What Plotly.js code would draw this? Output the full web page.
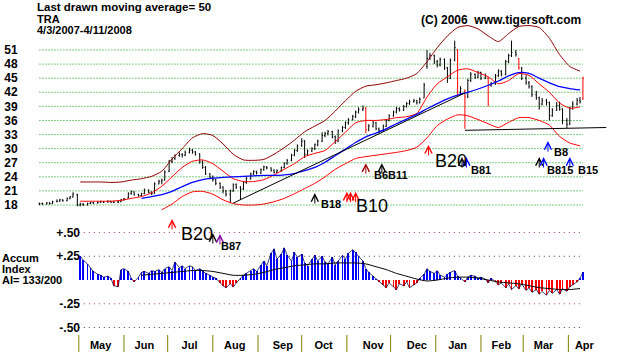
<!DOCTYPE html>
<html><head><meta charset="utf-8">
<script src="https://cdn.plot.ly/plotly-3.0.1.min.js"></script>
<style>html,body{margin:0;padding:0;background:#fff;}#chart{width:618px;height:352px;}</style>
</head><body><div id="chart"></div>
<script>
// ---------------- DATA ----------------
const firstBarDate = '2007-04-04';
const lastBarDate = '2008-04-11';
// bars: Mon / Wed / Fri, one row per week (week 0 has Wed, Fri only)
const opens = [
 18.2,18.3,
 18.2,18.4,18.3, 18.7,18.8,19.1, 18.9,19.4,19.7, 20.2,18.0,18.2, 18.0,18.3,18.5,
 18.4,18.6,18.7, 18.6,18.8,18.6, 18.6,18.7,19.1, 19.5,20.4,20.8, 20.2,20.0,20.4,
 21.2,20.7,20.4, 22.5,23.0,23.3, 25.2,27.3,27.9, 28.5,28.8,28.6, 29.2,29.7,29.3,
 28.9,27.2,26.0, 24.6,23.9,23.4, 22.6,21.8,21.0, 20.3,21.0,22.3, 21.8,21.4,22.8,
 23.6,24.6,25.1, 24.8,25.5,26.1, 25.9,25.4,25.0, 25.3,26.0,26.8, 27.5,28.6,29.6,
 30.6,31.6,28.8, 29.5,30.0,30.8, 31.6,32.8,33.2, 33.6,32.5,31.6, 33.8,34.5,35.5,
 36.2,36.8,37.8, 38.3,38.6,34.0, 34.8,35.5,34.2, 33.8,34.8,36.0, 37.0,37.8,38.5,
 38.2,39.0,39.6, 40.0,40.2,39.8, 40.8,47.5,49.2, 49.8,48.5,47.8, 49.0,47.2,45.0,
 48.8,51.0,42.0, 42.2,41.0,44.5, 45.8,45.2,46.2, 45.0,45.0,43.5, 43.8,45.5,46.5,
 45.8,48.5,49.8, 50.5,49.2,47.2, 45.0,44.0,43.2, 41.5,40.8,39.5, 40.2,39.8,37.0,
 38.2,39.2,38.4, 36.0,35.2,38.6, 39.5,40.3,40.6
];
const highs = [
 18.5,18.5,
 18.6,18.6,18.9, 19.2,19.3,19.2, 19.6,19.9,20.7, 20.4,18.5,18.4, 18.5,18.7,18.6,
 18.8,18.9,18.8, 19.0,18.9,18.9, 18.9,19.3,19.5, 20.7,21.1,20.9, 20.4,20.6,21.5,
 21.3,20.9,22.8, 23.4,23.6,25.4, 27.6,28.2,28.8, 29.2,29.0,29.6, 30.2,29.9,29.5,
 29.0,27.5,26.3, 24.8,24.3,23.6, 22.8,22.0,21.2, 21.3,22.6,22.6, 22.0,23.1,24.0,
 24.9,25.4,25.3, 25.8,26.4,26.3, 26.0,25.6,25.6, 26.2,27.1,27.8, 28.9,29.9,30.9,
 32.2,31.8,29.8, 30.3,31.1,31.9, 33.5,33.6,34.0, 33.8,32.8,34.1, 34.8,35.8,36.5,
 37.2,38.1,38.8, 39.2,38.9,35.2, 35.9,35.7,34.5, 35.1,36.3,37.3, 38.1,38.9,38.8,
 39.3,39.9,40.4, 40.6,40.4,40.9, 44.0,51.0,50.4, 50.0,48.9,49.4, 49.2,47.4,49.2,
 53.0,51.2,43.3, 42.6,44.9,46.3, 46.0,46.6,46.4, 46.0,45.2,44.2, 45.9,46.9,46.7,
 48.9,50.2,53.0, 51.0,49.3,47.4, 45.6,44.4,43.5, 42.3,41.1,40.8, 40.6,40.0,38.6,
 39.9,40.0,38.6, 36.5,38.9,40.1, 40.8,41.0,45.3
];
const lows = [
 18.0,18.0,
 18.1,18.1,18.2, 18.6,18.7,18.7, 18.8,19.2,19.6, 17.7,17.7,17.8, 17.9,18.2,18.2,
 18.3,18.4,18.4, 18.5,18.4,18.4, 18.4,18.6,18.9, 19.4,20.2,20.0, 19.8,19.9,20.3,
 20.5,20.1,20.4, 22.4,22.4,23.2, 25.0,26.9,27.6, 28.3,28.1,28.4, 29.0,28.9,28.5,
 26.8,25.7,24.4, 23.5,23.0,22.2, 21.4,20.5,19.8, 18.5,20.8,21.4, 19.1,21.2,22.5,
 23.4,24.4,24.5, 24.6,25.3,25.6, 25.1,24.7,24.8, 25.1,25.8,26.6, 27.3,28.4,29.3,
 30.4,28.0,28.5, 29.3,29.7,30.5, 31.4,32.4,32.8, 32.2,31.0,31.4, 33.5,34.2,35.1,
 36.0,36.5,37.5, 38.0,33.3,33.7, 34.5,33.9,33.3, 33.6,34.6,35.8, 36.8,37.5,37.9,
 38.0,38.7,39.3, 39.8,39.4,39.6, 40.8,47.0,48.9, 48.0,47.3,47.5, 46.8,44.0,44.8,
 48.6,41.2,41.6, 34.2,40.8,44.2, 44.8,45.0,44.6, 44.8,39.0,43.2, 43.6,45.3,45.4,
 45.6,48.2,49.5, 49.6,46.8,44.6, 43.6,42.8,41.0, 40.4,38.3,39.2, 39.2,36.0,36.8,
 38.0,38.1,35.2, 34.4,35.0,38.3, 39.2,39.6,40.4
];
const closes = [
 18.3,18.2,
 18.4,18.3,18.7, 18.8,19.1,18.9, 19.4,19.7,20.3, 18.0,18.2,18.0, 18.3,18.5,18.4,
 18.6,18.7,18.6, 18.8,18.6,18.6, 18.7,19.1,19.3, 20.4,20.8,20.2, 20.0,20.4,21.2,
 20.7,20.4,22.5, 23.0,23.3,25.0, 27.3,27.9,28.5, 28.8,28.6,29.2, 29.7,29.3,28.9,
 27.2,26.0,24.6, 23.9,23.4,22.6, 21.8,21.0,20.3, 21.0,22.3,21.8, 21.4,22.8,23.6,
 24.6,25.1,24.8, 25.5,26.1,25.9, 25.4,25.0,25.3, 26.0,26.8,27.5, 28.6,29.6,30.6,
 31.6,28.8,29.5, 30.0,30.8,31.6, 32.8,33.2,33.6, 32.5,31.6,33.8, 34.5,35.5,36.2,
 36.8,37.8,38.3, 38.6,34.0,34.8, 35.5,34.2,33.8, 34.8,36.0,37.0, 37.8,38.5,38.2,
 39.0,39.6,40.0, 40.2,39.8,40.5, 43.5,49.2,49.8, 48.5,47.8,49.0, 47.2,45.0,48.8,
 51.5,42.0,42.8, 41.0,44.5,45.8, 45.2,46.2,45.0, 45.5,43.5,43.8, 45.5,46.5,45.8,
 48.5,49.8,50.5, 50.0,47.2,45.0, 44.0,43.2,41.5, 40.8,39.5,40.2, 39.8,37.0,38.2,
 39.2,38.4,36.0, 35.2,38.6,39.5, 40.3,40.0,45.0
];
// bars drawn in red (index into the bar arrays)
const redBarIndex = [96, 123, 125, 132, 141, 160];

// weekly (Wednesday) smoothed lines
const outerBandStartWeek = 4;
const outerBand = [22.9,22.9,22.9,22.8,22.9,23.3,23.6,24.1,25.2,27.8,30.0,32.3,33.2,32.8,31.0,28.8,27.6,27.5,27.7,28.8,
 30.2,31.8,33.6,34.8,36.0,38.0,40.2,42.2,43.3,43.6,44.0,44.5,45.0,46.0,48.5,51.5,54.0,55.8,56.2,55.5,
 54.0,52.8,54.5,56.0,56.2,55.8,53.5,50.0,47.5,46.5];
const upperBandStartWeek = 4;
const upperBand = [18.8,18.8,18.8,18.8,19.0,19.4,19.8,20.6,22.0,24.0,26.0,27.3,27.6,26.8,25.2,23.6,23.0,23.0,23.4,24.4,
 25.6,26.8,28.3,29.0,29.6,31.5,33.5,35.5,36.0,36.0,36.2,36.6,36.8,37.5,41.0,43.8,45.3,46.7,47.0,46.2,
 45.3,43.8,44.5,46.0,45.6,43.8,42.0,39.7,38.6,38.9];
const lowerBandStartWeek = 12;
const lowerBand = [17.0,18.2,19.8,20.8,20.9,20.3,19.1,18.3,18.0,18.0,18.2,18.7,19.4,20.4,21.5,22.6,24.0,25.6,26.8,27.9,
 28.3,28.6,28.9,29.2,29.6,30.3,32.3,34.9,36.3,37.2,37.0,36.2,35.3,34.5,35.6,36.6,36.6,36.0,35.0,32.6,31.2,30.6];
const ma50StartWeek = 10;
const ma50 = [19.4,19.8,20.2,20.9,21.9,22.8,23.4,23.7,23.9,24.0,24.1,24.2,24.3,24.3,24.4,24.7,25.3,26.0,27.1,28.5,
 29.9,31.3,32.5,33.3,34.2,35.3,36.3,37.3,38.5,39.6,40.6,41.4,42.0,42.7,43.5,44.4,45.5,46.2,46.0,45.0,
 44.0,43.2,42.8,42.5];

// trend lines
const uptrendDates = ['2007-08-15', '2008-01-21'];
const uptrendLevels = [18.4, 41.85];
const supportDates = ['2008-01-21', '2008-04-27'];
const supportLevels = [33.9, 34.5];

// Accumulation index, one value per bar
const aiValues = [null,null,null,null,null,null,null,null,null,null,null,null,
 0.25,0.21,0.17,0.13,0.09,0.06,0.05,0.03,0.04,0.02,
 -0.06,-0.07,0.11,0.12,0.09,0.02,-0.02,0.03,0.08,0.09,
 0.07,0.10,0.09,0.11,0.08,0.12,0.14,0.10,0.19,0.13,
 0.15,0.12,0.15,0.14,0.10,0.12,0.09,0.07,0.05,0.03,
 0.02,-0.03,-0.06,-0.08,-0.04,-0.07,-0.03,0.02,0.05,0.07,
 0.10,0.12,0.09,0.16,0.20,0.15,0.28,0.33,0.22,0.27,
 0.34,0.26,0.20,0.29,0.24,0.27,0.18,0.15,0.22,0.26,
 0.20,0.25,0.19,0.17,0.24,0.16,0.20,0.26,0.22,0.28,
 0.32,0.29,0.25,0.20,0.12,0.08,0.04,0.01,-0.02,-0.05,
 -0.08,-0.03,-0.07,-0.10,-0.04,-0.06,-0.02,-0.08,-0.05,-0.03,
 0.02,0.06,0.12,0.09,0.07,0.10,0.05,0.03,0.06,0.08,
 0.10,0.04,0.02,-0.02,0.03,0.05,0.04,0.02,0.03,0.01,
 -0.03,0.02,-0.02,-0.05,-0.03,-0.08,-0.04,-0.10,-0.06,-0.09,
 -0.04,-0.11,-0.08,-0.13,-0.10,-0.15,-0.12,-0.16,-0.11,-0.14,
 -0.10,-0.15,-0.09,-0.12,-0.07,-0.05,-0.02,0.02,0.08];
const aiMAStartWeek = 10;
const aiMA = [0.05,0.06,0.07,0.08,0.09,0.10,0.10,0.09,0.07,0.05,0.05,0.06,0.08,0.11,0.13,0.15,0.16,0.17,0.17,0.18,
 0.18,0.18,0.17,0.14,0.11,0.07,0.04,0.01,-0.01,0.00,0.02,0.03,0.03,0.02,0.00,-0.02,-0.03,-0.04,-0.06,-0.08,
 -0.09,-0.10,-0.10,-0.09];

// signals (arrows); level is read on the panel named in signalPanel
const signalDates = ['2007-07-04','2007-08-01','2007-08-05 21:00','2007-10-10','2007-11-01','2007-11-03 12:00','2007-11-07',
 '2007-11-14','2007-11-25','2007-12-27','2008-01-19','2008-01-22','2008-03-12','2008-03-15','2008-03-18','2008-04-02'];
const signalPanel = ['ai','ai','ai','price','price','price','price','price','price','price','price','price','price','price','price','price'];
const signalLevels = [0.642,0.495,0.484,20.55,20.8,20.8,20.8,26.9,26.9,30.8,28.2,28.2,28.2,28.2,31.6,28.2];
const signalKinds = ['red','black','purple','black','red','red','red','darkred','black','red','black','blue','black','blue','blue','blue'];
// signal labels
const signalLabels = ['B20','B87','B18','B10','B6B11','B20','B81','B8','B815','B15'];
const signalLabelDates = ['2007-07-09 12:00','2007-08-05 21:00','2007-10-13 12:00','2007-11-06 12:00','2007-11-19','2007-12-31',
 '2008-01-24 12:00','2008-03-21 12:00','2008-03-16 12:00','2008-04-07'];
const signalLabelPanel = ['ai','ai','price','price','price','price','price','price','price','price'];
const signalLabelLevels = [0.484,0.358,18.2,17.8,24.4,27.4,25.45,29.3,25.45,25.45];
const signalLabelBig = [true,false,false,true,false,true,false,false,false,false];

// axes
const priceTicks = [18,21,24,27,30,33,36,39,42,45,48,51];
const aiTicks = [0.5,0.25,-0.25,-0.5];
const aiTickText = ['+.50','+.25','-.25','-.50'];
const monthStarts = ['2007-05-01','2007-06-01','2007-07-01','2007-08-01','2007-09-01','2007-10-01','2007-11-01',
 '2007-12-01','2008-01-01','2008-02-01','2008-03-01','2008-04-01'];
const monthLabelDates = ['2007-05-16','2007-06-15','2007-07-16','2007-08-16','2007-09-18','2007-10-16','2007-11-19',
 '2007-12-19','2008-01-16','2008-02-15','2008-03-15','2008-04-12'];
const monthNames = ['May','Jun','Jul','Aug','Sep','Oct','Nov','Dec','Jan','Feb','Mar','Apr'];

// ---------------- BUILD ----------------
function barDates(start, end) {
  const out = [];
  const d = new Date(start + 'T00:00:00Z'), e = new Date(end + 'T00:00:00Z');
  while (d <= e) {
    const wd = d.getUTCDay();
    if (wd === 1 || wd === 3 || wd === 5) out.push(d.toISOString().slice(0, 10));
    d.setUTCDate(d.getUTCDate() + 1);
  }
  return out;
}
const dates = barDates(firstBarDate, lastBarDate);
const weekDates = dates.filter((d, i) => i % 3 === 0);
const isRed = dates.map((d, i) => redBarIndex.includes(i));
function pick(arr, red) { return arr.filter((v, i) => isRed[i] === red); }
const panelAxis = {price: 'y', ai: 'y2'};

const FONT = 'Liberation Sans, Arial, sans-serif';
const traces = [];
function line(x, y, color, width, dash, yaxis) {
  return {type: 'scatter', mode: 'lines', x, y, line: {color, width, dash: dash || 'solid', shape: 'spline', smoothing: 0.6},
          yaxis: yaxis || 'y', hoverinfo: 'skip'};
}
traces.push(line(weekDates.slice(outerBandStartWeek), outerBand, '#900000', 1));
traces.push(line(weekDates.slice(upperBandStartWeek), upperBand, '#ff0000', 1));
traces.push(line(weekDates.slice(lowerBandStartWeek), lowerBand, '#ff0000', 1));
traces.push(line(weekDates.slice(ma50StartWeek), ma50, '#0000ff', 1.3));
traces.push({type: 'scatter', mode: 'lines', x: uptrendDates, y: uptrendLevels, line: {color: '#000', width: 1}, hoverinfo: 'skip'});
traces.push({type: 'scatter', mode: 'lines', x: supportDates, y: supportLevels, line: {color: '#000', width: 1}, hoverinfo: 'skip'});
[false, true].forEach(red => {
  const c = red ? '#ff0000' : '#000000';
  traces.push({type: 'ohlc', x: pick(dates, red), open: pick(opens, red), high: pick(highs, red), low: pick(lows, red),
    close: pick(closes, red), increasing: {line: {color: c, width: 1}}, decreasing: {line: {color: c, width: 1}},
    tickwidth: 0.3, hoverinfo: 'skip', xaxis: 'x', yaxis: 'y'});
});
// accumulation index panel
traces.push({type: 'bar', x: dates, y: aiValues, yaxis: 'y2', width: 86400000 * 1.3,
  marker: {color: aiValues.map(v => v !== null && v < 0 ? '#ff0000' : '#0000ff'), line: {width: 0}}, hoverinfo: 'skip'});
traces.push({type: 'scatter', mode: 'lines', x: dates, y: aiValues, yaxis: 'y2', line: {color: '#101050', width: 0.8}, hoverinfo: 'skip', connectgaps: false});
traces.push(line(weekDates.slice(aiMAStartWeek), aiMA, '#000000', 1, 'solid', 'y2'));

// shapes
const shapes = [];
priceTicks.forEach(v => shapes.push({type: 'line', xref: 'x', yref: 'y', x0: dates[0], x1: lastBarDate, y0: v, y1: v,
  line: {color: '#009900', width: 1, dash: '1px,2px'}, layer: 'below'}));
const aiGridColors = ['#b03080', '#404040', '#b03080', '#404040'];
aiTicks.forEach((v, i) => shapes.push({type: 'line', xref: 'x', yref: 'y2', x0: monthStarts[0], x1: lastBarDate, y0: v, y1: v,
  line: {color: aiGridColors[i], width: 1, dash: '1px,4px'}, layer: 'below'}));
monthStarts.forEach(d => shapes.push({type: 'line', xref: 'x', yref: 'paper', x0: d, x1: d, y0: -0.0095, y1: -0.0635,
  line: {color: '#808000', width: 1}}));

// annotations
const annotations = [];
const kindColor = {red: '#ff0000', black: '#000000', blue: '#0000ff', darkred: '#a00000', purple: '#8000a0'};
signalDates.forEach((d, i) => annotations.push({x: d, y: signalLevels[i], xref: 'x', yref: panelAxis[signalPanel[i]],
  text: '', showarrow: true, ax: 0, ay: 12, arrowhead: 5, arrowsize: 1.4, arrowwidth: 1,
  arrowcolor: kindColor[signalKinds[i]], standoff: 0}));
signalLabels.forEach((t, i) => annotations.push({x: signalLabelDates[i], y: signalLabelLevels[i], xref: 'x',
  yref: panelAxis[signalLabelPanel[i]], text: t, showarrow: false, xanchor: 'left', yanchor: 'middle', borderpad: 0,
  font: signalLabelBig[i] ? {family: FONT, size: 18, color: '#000'} : {family: FONT, size: 11, color: '#000', weight: 'bold'}}));
function ptext(t, x, y, size) {
  annotations.push({xref: 'paper', yref: 'paper', x, y, text: t, showarrow: false, xanchor: 'left', yanchor: 'middle',
    borderpad: 0, font: {family: FONT, size: size, color: '#000', weight: 'bold'}});
}
ptext('Last drawn moving average= 50', -0.003, 1.0318, 11.5);
ptext('TRA', -0.003, 0.9952, 11);
ptext('4/3/2007-4/11/2008', -0.003, 0.9603, 11);
ptext('(C) 2006\u00a0 www.tigersoft.com', 0.671, 0.9889, 12);
ptext('Accum', -0.065, 0.2350, 11);
ptext('Index', -0.065, 0.2, 11);
ptext('AI= 133/200', -0.065, 0.1650, 11);

const layout = {
  width: 618, height: 352,
  margin: {l: 38, r: 10, t: 17, b: 20},
  paper_bgcolor: '#fff', plot_bgcolor: '#fff', showlegend: false,
  font: {family: FONT, size: 11, color: '#000'},
  bargap: 0,
  xaxis: {type: 'date', range: ['2007-04-03', '2008-04-28 05:00'], anchor: 'y2', showgrid: false, zeroline: false,
    showline: false, tickmode: 'array', tickvals: monthLabelDates, ticktext: monthNames, ticks: 'outside', ticklen: 3,
    tickcolor: 'rgba(0,0,0,0)', tickfont: {family: FONT, size: 11, weight: 'bold'}, rangeslider: {visible: false}},
  yaxis: {domain: [0.381, 1], range: [16.51, 58.03], tickmode: 'array', tickvals: priceTicks, ticks: 'outside',
    ticklen: 17, tickcolor: 'rgba(0,0,0,0)', showgrid: false, zeroline: false, showline: false,
    tickfont: {family: FONT, size: 12, weight: 'bold'}},
  yaxis2: {domain: [0, 0.3746], range: [-0.547, 0.695], anchor: 'free', position: 0.0737, tickmode: 'array',
    tickvals: aiTicks, ticktext: aiTickText, showgrid: false, zeroline: false, showline: false,
    tickfont: {family: FONT, size: 12, weight: 'bold'}},
  shapes, annotations
};
Plotly.newPlot('chart', traces, layout, {staticPlot: true});
</script></body></html>
